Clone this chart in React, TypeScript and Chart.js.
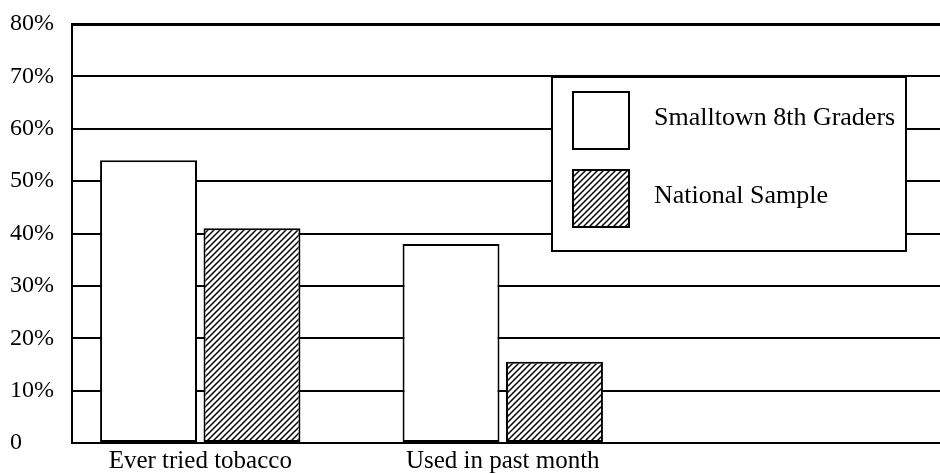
import React, { useEffect, useRef } from "react";
import { Chart, registerables } from "chart.js";

Chart.register(...registerables);

const categories: string[] = ["Ever tried tobacco", "Used in past month"];
const seriesNames: string[] = ["Smalltown 8th Graders", "National Sample"];
const smalltownValues: number[] = [54, 38];
const nationalValues: number[] = [41, 15.5];
const yTicks: number[] = [0, 10, 20, 30, 40, 50, 60, 70, 80];

const FONT = "'Liberation Serif', 'Times New Roman', serif";

function makeHatch(): CanvasPattern | string {
  const size = 6;
  const c = document.createElement("canvas");
  c.width = size;
  c.height = size;
  const g = c.getContext("2d");
  if (!g) return "#fff";
  g.fillStyle = "#fff";
  g.fillRect(0, 0, size, size);
  g.strokeStyle = "#000";
  g.lineWidth = 1.5;
  g.beginPath();
  g.moveTo(0, size);
  g.lineTo(size, 0);
  g.moveTo(-1, 1);
  g.lineTo(1, -1);
  g.moveTo(size - 1, size + 1);
  g.lineTo(size + 1, size - 1);
  g.stroke();
  return g.createPattern(c, "repeat") || "#fff";
}

const boxLegend = {
  id: "boxLegend",
  afterDraw(chart: any) {
    const ctx: CanvasRenderingContext2D = chart.ctx;
    const a = chart.chartArea;
    const x = a.left + 480;
    const y = a.top + 53;
    const w = 354;
    const h = 174;
    ctx.save();
    ctx.fillStyle = "#fff";
    ctx.fillRect(x, y, w, h);
    ctx.strokeStyle = "#000";
    ctx.lineWidth = 2;
    ctx.strokeRect(x, y, w, h);
    chart.data.datasets.forEach((ds: any, i: number) => {
      const sx = x + 21;
      const sy = y + 15 + i * 78;
      ctx.fillStyle = ds.backgroundColor;
      ctx.fillRect(sx, sy, 56, 57);
      ctx.lineWidth = 2;
      ctx.strokeStyle = "#000";
      ctx.strokeRect(sx, sy, 56, 57);
      ctx.fillStyle = "#000";
      ctx.font = `26px ${FONT}`;
      ctx.textBaseline = "middle";
      ctx.textAlign = "left";
      ctx.fillText(ds.label, x + 102, sy + 26);
    });
    ctx.restore();
  },
};

export default function App() {
  const ref = useRef<HTMLCanvasElement | null>(null);

  useEffect(() => {
    document.body.style.margin = "0";
    const canvas = ref.current;
    if (!canvas) return;
    const hatch = makeHatch();
    const chart = new Chart(canvas, {
      type: "bar",
      data: {
        datasets: [
          {
            label: seriesNames[0],
            data: smalltownValues.map((v, i) => ({ x: i, y: v })),
            backgroundColor: "#fff",
            borderColor: "#000",
            borderWidth: 2,
            borderSkipped: false,
          },
          {
            label: seriesNames[1],
            data: nationalValues.map((v, i) => ({ x: i, y: v })),
            backgroundColor: hatch as any,
            borderColor: "#000",
            borderWidth: 2,
            borderSkipped: false,
          },
        ],
      },
      options: {
        animation: false,
        responsive: false,
        devicePixelRatio: 1,
        categoryPercentage: 0.684,
        barPercentage: 0.937,
        layout: { padding: { left: 10, top: 24, right: 0, bottom: 0 } },
        plugins: {
          legend: { display: false },
          tooltip: { enabled: false },
        },
        scales: {
          x: {
            type: "linear",
            offset: false,
            min: -0.424,
            max: 2.4455,
            grid: { display: false, drawTicks: false, offset: false },
            border: { display: true, color: "#000", width: 2 },
            afterBuildTicks: (scale: any) => {
              scale.ticks = categories.map((_, i) => ({ value: i }));
            },
            afterFit: (scale: any) => {
              scale.height = 31;
            },
            ticks: {
              color: "#000",
              font: { family: FONT, size: 25 },
              padding: 3,
              maxRotation: 0,
              autoSkip: false,
              callback: (v: any) => categories[v] ?? "",
            },
          },
          y: {
            min: 0,
            max: 80,
            afterBuildTicks: (scale: any) => {
              scale.ticks = yTicks.map((v) => ({ value: v }));
            },
            afterFit: (scale: any) => {
              scale.width = 62;
            },
            grid: {
              color: "#000",
              lineWidth: (c: any) => (c.tick && c.tick.value === 80 ? 3 : 2),
              drawTicks: false,
            },
            border: { display: true, color: "#000", width: 2 },
            ticks: {
              color: "#000",
              crossAlign: "far",
              padding: 8,
              font: { family: FONT, size: 24 },
              callback: (v: any) => (v === 0 ? "0" : `${v}%`),
            },
          },
        },
      },
      plugins: [boxLegend],
    } as any);
    return () => chart.destroy();
  }, []);

  return (
    <div style={{ width: 940, height: 474, background: "#fff" }}>
      <canvas ref={ref} width={940} height={474} style={{ display: "block" }} />
    </div>
  );
}
